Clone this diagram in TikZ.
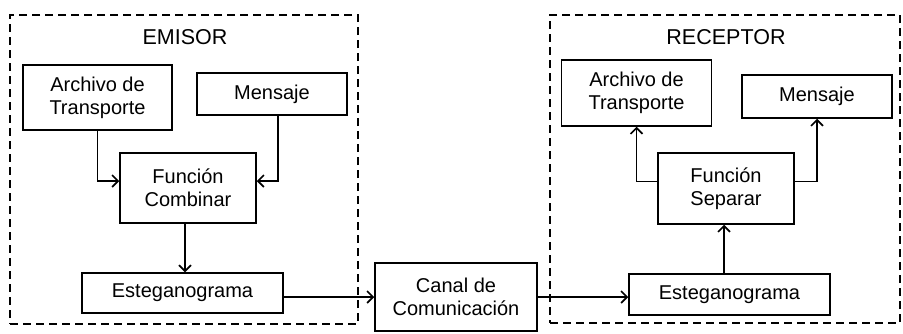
\documentclass[tikz,border=0pt]{standalone}
\usepackage{fontspec}
\setmainfont{Liberation Sans}
\usetikzlibrary{arrows.meta}
\begin{document}
\begin{tikzpicture}[x=1pt,y=-1pt,
  frame/.style={draw, line width=1.8pt, dash pattern=on 8pt off 5pt, inner sep=0pt},
  blk/.style={draw, line width=1.5pt, inner sep=0pt, align=center, font=\fontsize{20}{23}\selectfont},
  ttl/.style={font=\fontsize{21.5}{25}\selectfont, inner sep=0pt},
  conn/.style={line width=1.6pt, -{Straight Barb[length=6pt,width=12pt,line width=1.6pt]}}
]
\useasboundingbox (0,0) rectangle (903,333);
% frames
\node[frame, minimum width=348pt, minimum height=309pt] (emisor) at (184,169.5) {};
\node[frame, minimum width=350pt, minimum height=308pt] (receptor) at (725,169) {};
\node[ttl] (emisorlbl) at (185,37) {EMISOR};
\node[ttl] (receptorlbl) at (726,37) {RECEPTOR};
% emisor blocks
\node[blk, minimum width=149pt, minimum height=65pt] (archA) at (97.5,97.5) {Archivo de\\Transporte};
\node[blk, minimum width=150pt, minimum height=42pt] (mensA) at (272,94) {Mensaje};
\node[blk, minimum width=136pt, minimum height=70pt] (funcA) at (188,188) {Función\\Combinar};
\node[blk, minimum width=201pt, minimum height=40pt] (estA) at (182.5,293) {Esteganograma};
% channel
\node[blk, minimum width=162pt, minimum height=68pt, fill=white] (canal) at (456,297) {Canal de\\Comunicación};
% receptor blocks
\node[blk, minimum width=150pt, minimum height=66pt] (archB) at (636.5,93) {Archivo de\\Transporte};
\node[blk, minimum width=150pt, minimum height=43pt] (mensB) at (817,96.5) {Mensaje};
\node[blk, minimum width=136pt, minimum height=71pt] (funcB) at (726,188.5) {Función\\Separar};
\node[blk, minimum width=201pt, minimum height=41pt] (estB) at (729.5,294.5) {Esteganograma};
% connectors
\draw[conn] (archA.south) |- ([yshift=7pt]funcA.west);
\draw[conn] ([xshift=6pt]mensA.south) |- ([yshift=7pt]funcA.east);
\draw[conn] ([xshift=-3pt]funcA.south) -- ([xshift=-3pt]funcA.south |- estA.north);
\draw[conn] (estA.east |- canal.west) -- (canal.west);
\draw[conn] (canal.east) -- (canal.east -| estB.west);
\draw[conn] ([xshift=-2pt]funcB.south |- estB.north) -- ([xshift=-2pt]funcB.south);
\draw[conn] ([yshift=7pt]funcB.west) -| (archB.south);
\draw[conn] ([yshift=7pt]funcB.east) -| (mensB.south);
\end{tikzpicture}
\end{document}
